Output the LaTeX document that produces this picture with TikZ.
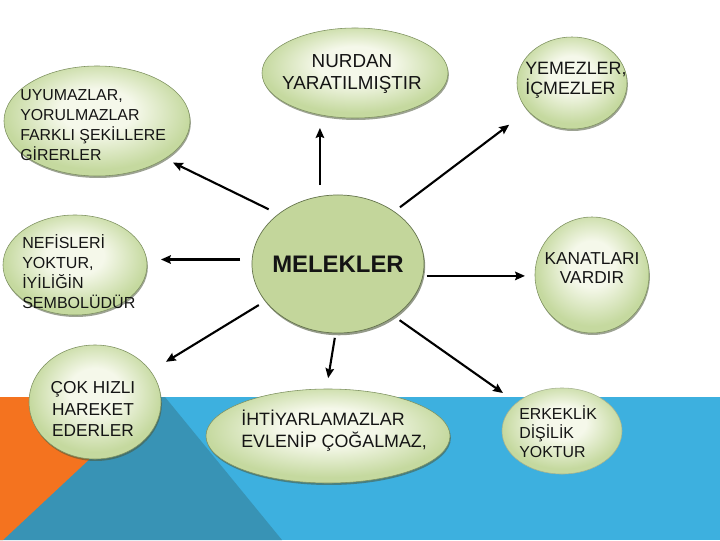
\documentclass[tikz,border=0pt]{standalone}
\usepackage{fontspec}
\setmainfont{Liberation Sans}
\usetikzlibrary{shapes.geometric,arrows.meta,shadows}

\definecolor{bandblue}{HTML}{3DB0DF}
\definecolor{bandteal}{HTML}{3893B5}
\definecolor{bandorange}{HTML}{F4731F}
\definecolor{bubin}{HTML}{F5F8EA}
\definecolor{bubout}{HTML}{C5D99F}
\definecolor{bubline}{HTML}{7E9160}
\definecolor{melfill}{HTML}{C3D69B}

\pgfdeclareradialshading{bubshade}{\pgfpoint{0bp}{6bp}}{color(0bp)=(bubin); color(10bp)=(bubin); color(25bp)=(bubout); color(50bp)=(bubout)}

\tikzset{
  bubble/.style={ellipse, shading=bubshade, draw=bubline, line width=0.4pt, inner sep=0pt, outer sep=0pt,
    drop shadow={shadow xshift=0.6pt, shadow yshift=-1.4pt, opacity=0.55, fill=bubline!60!black}},
  flatbubble/.style={ellipse, shading=bubshade, draw=bubline!70, line width=0.4pt, inner sep=0pt, outer sep=0pt},
  melbubble/.style={ellipse, fill=melfill, draw=bubline!80!black, line width=0.5pt, inner sep=0pt, outer sep=0pt,
    drop shadow={shadow xshift=0.8pt, shadow yshift=-1.6pt, opacity=0.6, fill=bubline!60!black}},
  txt/.style={inner sep=0pt, text=black!92},
  arr/.style={line width=1.5pt, -{Stealth[length=7pt, width=6pt, inset=1pt]}}
}

\begin{document}
\begin{tikzpicture}[x=0.025cm, y=-0.025cm]
    \useasboundingbox (0,0) rectangle (720,540);
    \fill[bandblue] (0,397) rectangle (720,540);
    \fill[bandteal] (0,540) -- (157,397) -- (165,397) -- (282,540) -- cycle;
    \fill[bandorange] (0,397) -- (156,397) -- (3,540) -- (0,540) -- cycle;

    \node[bubble, minimum width=4.65cm, minimum height=2.75cm] (uyu) at (97,121) {};
    \node[bubble, minimum width=4.65cm, minimum height=2.25cm] (nur) at (355,73) {};
    \node[bubble, minimum width=2.75cm, minimum height=2.3cm] (yem) at (572,83) {};
    \node[bubble, minimum width=3.6cm, minimum height=2.5cm] (nef) at (75,265) {};
    \node[melbubble, minimum width=4.3cm, minimum height=3.45cm] (mel) at (338,264) {};
    \node[bubble, minimum width=2.85cm, minimum height=2.9cm] (kan) at (592,275) {};
    \node[bubble, minimum width=3.3cm, minimum height=2.85cm] (cok) at (95,402) {};
    \node[bubble, minimum width=6.1cm, minimum height=2.35cm] (iht) at (328,436) {};
    \node[flatbubble, minimum width=3cm, minimum height=2.15cm] (erk) at (562,431) {};

    \node[txt, anchor=west, align=left, font=\fontsize{11.3}{14.2}\selectfont] (uyuT) at (20,125) {UYUMAZLAR,\\YORULMAZLAR\\FARKLI ŞEKİLLERE\\GİRERLER};
    \node[txt, align=center, font=\fontsize{13.4}{16.3}\selectfont] (nurT) at (352,74) {NURDAN\\YARATILMIŞTIR};
    \node[txt, anchor=west, align=left, font=\fontsize{12.7}{14.2}\selectfont] (yemT) at (525,80) {YEMEZLER,\\İÇMEZLER};
    \node[txt, anchor=west, align=left, font=\fontsize{11.4}{14.2}\selectfont] (nefT) at (22,272) {NEFİSLERİ\\YOKTUR,\\İYİLİĞİN\\SEMBOLÜDÜR};
    \node[txt, font=\fontsize{17}{20}\selectfont\bfseries] (melT) at (338,264) {MELEKLER};
    \node[txt, align=center, font=\fontsize{12.3}{13.8}\selectfont] (kanT) at (592,268) {KANATLARI\\VARDIR};
    \node[txt, align=center, font=\fontsize{12.3}{15}\selectfont] (cokT) at (93,409) {ÇOK HIZLI\\HAREKET\\EDERLER};
    \node[txt, anchor=west, align=left, font=\fontsize{12.7}{15.6}\selectfont] (ihtT) at (241,431) {İHTİYARLAMAZLAR\\EVLENİP ÇOĞALMAZ,};
    \node[txt, anchor=west, align=left, font=\fontsize{11.3}{13.5}\selectfont] (erkT) at (519,432) {ERKEKLİK\\DİŞİLİK\\YOKTUR};

    \draw[arr, shorten <=7.8pt, shorten >=6.4pt] (mel.140) -- (uyu.-29);
    \draw[arr, shorten <=8.2pt, shorten >=7.1pt] (mel.105) -- (mel.105 |- nur.south);
    \draw[arr, shorten <=5.2pt, shorten >=16.7pt] (mel.43) -- (yem.212);
    \draw[arr, shorten <=8.5pt, shorten >=9.9pt] (mel.177) -- (mel.177 -| nef.east);
    \draw[arr, shorten <=2.8pt, shorten >=7.1pt] (mel.-8) -- (mel.-8 -| kan.west);
    \draw[arr, shorten <=5.5pt, shorten >=12.8pt] (mel.207) -- (cok.29);
    \draw[arr, shorten <=3.5pt, shorten >=7.8pt] (mel.-92) -- (iht.92);
    \draw[arr, shorten <=4.8pt, shorten >=12pt] (mel.-43) -- (erk.148);
\end{tikzpicture}
\end{document}
